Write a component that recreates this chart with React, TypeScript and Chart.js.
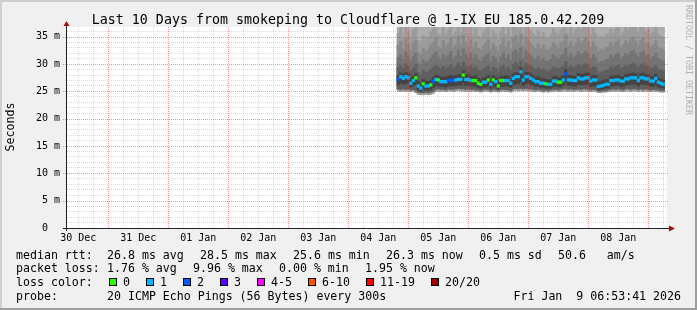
import React, { useEffect, useRef } from "react";
import { Chart, registerables } from "chart.js";
Chart.register(...registerables);

// hours counted from 30 Dec 00:00; first sample Jan 4 20:00, hourly
const startHour = 140;
const X_MIN = 7.48;
const X_MAX = 247.48;

const dayLabels = ["30 Dec", "31 Dec", "01 Jan", "02 Jan", "03 Jan", "04 Jan", "05 Jan", "06 Jan", "07 Jan", "08 Jan"];

const median = [
  27.2, 27.7, 27.4, 27.7, 27.5, 26.5, 27.0, 27.5, 26.0, 25.6,
  26.4, 26.0, 26.0, 26.2, 26.8, 27.2, 27.1, 26.8, 26.8, 26.8,
  27.0, 27.0, 27.0, 27.1, 27.2, 27.2, 28.0, 27.2, 27.2, 27.0,
  27.0, 27.0, 26.5, 26.3, 26.7, 26.7, 27.1, 26.3, 27.1, 26.8,
  26.0, 27.0, 27.0, 27.0, 27.0, 26.5, 27.4, 27.7, 27.7, 28.6,
  27.1, 27.7, 27.7, 27.4, 27.1, 26.8, 26.8, 26.5, 26.5, 26.4,
  26.3, 26.3, 26.9, 26.9, 26.7, 26.7, 27.1, 28.2, 27.1, 27.1,
  27.0, 27.0, 27.5, 27.3, 27.3, 27.5, 27.5, 26.9, 27.1, 27.1,
  25.9, 26.0, 26.1, 26.3, 26.3, 27.0, 27.0, 27.1, 27.1, 26.9,
  26.9, 27.3, 27.3, 27.5, 27.5, 27.5, 27.0, 27.5, 27.5, 27.3,
  27.3, 26.9, 26.9, 27.4, 26.7, 26.5, 26.3,
];

const loss = [
  2, 1, 1, 1, 1, 1, 1, 0, 1, 1,
  0, 1, 1, 0, 2, 1, 0, 1, 1, 1,
  2, 2, 2, 1, 1, 1, 0, 1, 1, 1,
  0, 0, 0, 0, 1, 1, 0, 1, 0, 1,
  0, 0, 0, 1, 1, 1, 1, 1, 1, 1,
  1, 1, 1, 1, 1, 1, 1, 1, 1, 0,
  1, 1, 1, 1, 0, 0, 1, 2, 1, 1,
  1, 1, 1, 1, 1, 1, 1, 1, 1, 1,
  1, 1, 1, 1, 1, 1, 1, 1, 1, 1,
  1, 1, 1, 1, 1, 1, 1, 1, 1, 1,
  1, 1, 1, 1, 1, 1, 1,
];

const pMin = [
  25.1, 25.0, 25.1, 25.0, 25.1, 25.0, 25.1, 24.8, 24.5, 24.4,
  24.4, 24.5, 24.4, 24.5, 24.7, 25.0, 25.1, 25.0, 25.1, 25.0,
  25.1, 25.1, 25.0, 25.1, 25.2, 25.1, 25.1, 25.0, 25.1, 25.0,
  25.1, 25.0, 25.0, 24.9, 25.0, 25.1, 25.0, 24.9, 25.0, 25.0,
  24.9, 25.0, 25.1, 25.0, 25.0, 24.9, 25.1, 25.2, 25.1, 25.2,
  25.1, 25.2, 25.1, 25.1, 25.0, 25.0, 25.1, 25.0, 24.9, 25.0,
  24.9, 25.0, 25.0, 25.1, 25.0, 25.0, 25.1, 25.1, 25.0, 25.1,
  25.0, 25.1, 25.1, 25.0, 25.1, 25.1, 25.0, 25.0, 25.1, 25.0,
  24.8, 24.8, 24.9, 24.9, 25.0, 25.0, 25.1, 25.0, 25.1, 25.0,
  25.0, 25.1, 25.1, 25.0, 25.1, 25.1, 25.0, 25.1, 25.0, 25.1,
  25.0, 25.0, 25.1, 25.0, 25.0, 24.9, 24.9,
];

const pLow = [
  25.5, 25.4, 25.5, 25.4, 25.5, 25.3, 25.4, 25.2, 24.9, 24.8,
  24.8, 24.9, 24.8, 24.9, 25.1, 25.4, 25.5, 25.4, 25.4, 25.3,
  25.5, 25.4, 25.4, 25.5, 25.6, 25.5, 25.5, 25.4, 25.5, 25.4,
  25.4, 25.3, 25.3, 25.2, 25.4, 25.4, 25.4, 25.2, 25.4, 25.3,
  25.2, 25.4, 25.4, 25.4, 25.3, 25.2, 25.5, 25.6, 25.5, 25.6,
  25.5, 25.6, 25.5, 25.5, 25.4, 25.3, 25.4, 25.3, 25.2, 25.3,
  25.2, 25.3, 25.4, 25.4, 25.3, 25.4, 25.5, 25.5, 25.4, 25.5,
  25.4, 25.4, 25.5, 25.4, 25.5, 25.5, 25.4, 25.3, 25.4, 25.4,
  25.1, 25.1, 25.2, 25.2, 25.3, 25.4, 25.5, 25.4, 25.5, 25.4,
  25.3, 25.5, 25.5, 25.4, 25.5, 25.5, 25.4, 25.5, 25.4, 25.5,
  25.4, 25.3, 25.4, 25.4, 25.3, 25.2, 25.2,
];

const darkLo = [
  26.2, 26.5, 26.3, 26.5, 26.4, 25.8, 26.1, 26.2, 25.3, 25.0,
  25.4, 25.2, 25.2, 25.3, 25.7, 26.1, 26.0, 25.9, 25.9, 25.8,
  26.0, 26.0, 26.0, 26.1, 26.2, 26.1, 26.5, 26.1, 26.1, 26.0,
  26.0, 25.9, 25.7, 25.6, 25.8, 25.8, 26.0, 25.6, 26.0, 25.8,
  25.4, 25.9, 25.9, 26.0, 25.9, 25.7, 26.2, 26.4, 26.4, 26.8,
  26.1, 26.4, 26.5, 26.3, 26.1, 25.9, 25.9, 25.7, 25.7, 25.6,
  25.6, 25.6, 25.9, 25.9, 25.8, 25.8, 26.1, 26.7, 26.1, 26.1,
  26.0, 26.0, 26.3, 26.2, 26.2, 26.3, 26.3, 25.9, 26.0, 26.0,
  25.3, 25.4, 25.5, 25.6, 25.6, 26.0, 26.0, 26.1, 26.1, 25.9,
  25.9, 26.2, 26.2, 26.3, 26.3, 26.3, 26.0, 26.3, 26.3, 26.2,
  26.2, 25.9, 25.9, 26.2, 25.8, 25.7, 25.6,
];

const darkHi = [
  28.0, 28.4, 28.2, 28.5, 28.3, 27.4, 27.8, 28.3, 26.9, 26.5,
  27.2, 26.9, 26.8, 27.1, 27.6, 28.0, 27.9, 27.7, 27.6, 27.7,
  27.8, 27.9, 27.8, 27.9, 28.1, 28.0, 28.8, 28.0, 28.1, 27.8,
  27.8, 27.9, 27.4, 27.2, 27.5, 27.6, 27.9, 27.2, 27.9, 27.6,
  26.9, 27.8, 27.8, 27.9, 27.8, 27.3, 28.2, 28.5, 28.4, 29.3,
  27.9, 28.5, 28.5, 28.2, 27.9, 27.6, 27.7, 27.3, 27.4, 27.2,
  27.1, 27.2, 27.7, 27.8, 27.5, 27.6, 27.9, 29.0, 27.9, 27.9,
  27.8, 27.8, 28.3, 28.1, 28.2, 28.3, 28.4, 27.7, 27.9, 27.9,
  26.8, 26.9, 27.0, 27.2, 27.2, 27.8, 27.8, 27.9, 28.0, 27.7,
  27.7, 28.1, 28.2, 28.3, 28.4, 28.3, 27.8, 28.3, 28.4, 28.1,
  28.1, 27.7, 27.8, 28.2, 27.5, 27.3, 27.1,
];

const hi5 = [
  29.4, 29.8, 29.2, 30.1, 29.6, 28.8, 29.3, 29.9, 28.4, 28.0,
  28.9, 28.5, 28.6, 29.0, 29.4, 29.8, 29.5, 29.2, 29.6, 29.1,
  29.5, 29.9, 29.3, 29.6, 30.2, 29.5, 30.4, 29.7, 29.4, 29.8,
  29.2, 29.6, 28.9, 28.8, 29.1, 29.4, 29.7, 28.7, 29.5, 29.3,
  28.6, 29.4, 29.8, 29.2, 29.5, 28.9, 30.0, 30.3, 29.8, 30.6,
  29.4, 30.2, 29.9, 29.7, 29.3, 29.0, 29.4, 28.9, 29.1, 28.8,
  28.7, 29.0, 29.5, 29.3, 29.1, 29.4, 29.6, 30.5, 29.4, 29.7,
  29.3, 29.5, 30.0, 29.6, 29.8, 30.1, 29.9, 29.2, 29.6, 29.4,
  28.4, 28.6, 28.7, 28.9, 29.0, 29.5, 29.3, 29.6, 29.8, 29.2,
  29.4, 29.8, 29.6, 30.0, 30.2, 29.8, 29.4, 29.9, 30.1, 29.6,
  29.7, 29.2, 29.4, 29.8, 29.1, 28.9, 28.8,
];

const hi4 = [
  31.2, 31.8, 30.9, 32.3, 31.5, 30.6, 31.4, 32.0, 30.2, 29.9,
  30.8, 30.3, 30.6, 31.1, 31.7, 32.2, 31.3, 30.9, 31.8, 31.0,
  31.6, 32.4, 31.1, 31.5, 32.6, 31.4, 32.8, 31.9, 31.2, 32.1,
  31.0, 31.7, 30.8, 30.5, 31.2, 31.6, 32.0, 30.6, 31.5, 31.1,
  30.4, 31.3, 32.1, 31.0, 31.8, 30.7, 32.3, 32.7, 31.9, 33.0,
  31.2, 32.5, 32.0, 31.6, 31.1, 30.8, 31.5, 30.7, 31.2, 30.6,
  30.5, 30.9, 31.7, 31.3, 30.9, 31.6, 31.8, 32.9, 31.3, 31.9,
  31.1, 31.6, 32.3, 31.7, 32.0, 32.4, 31.9, 31.0, 31.8, 31.2,
  30.2, 30.6, 30.5, 30.9, 31.0, 31.7, 31.2, 31.8, 32.1, 31.0,
  31.4, 32.0, 31.6, 32.3, 32.5, 31.9, 31.3, 32.1, 32.4, 31.5,
  31.8, 31.0, 31.4, 32.0, 31.0, 30.8, 30.6,
];

const hi3 = [
  33.4, 34.2, 32.8, 34.6, 33.7, 32.5, 33.9, 34.4, 32.1, 31.8,
  32.9, 32.3, 32.7, 33.5, 34.0, 34.8, 33.2, 32.9, 34.3, 33.1,
  33.8, 34.7, 33.0, 33.6, 35.1, 33.5, 35.3, 34.1, 33.3, 34.5,
  33.0, 34.0, 32.9, 32.6, 33.4, 33.9, 34.5, 32.7, 33.8, 33.2,
  32.4, 33.6, 34.6, 33.1, 34.2, 32.8, 34.8, 35.2, 34.0, 35.5,
  33.3, 34.9, 34.3, 33.8, 33.2, 32.9, 33.7, 32.8, 33.5, 32.7,
  32.6, 33.1, 34.0, 33.5, 33.0, 33.9, 34.1, 35.4, 33.4, 34.2,
  33.2, 33.9, 34.7, 33.9, 34.3, 34.9, 34.2, 33.1, 34.1, 33.3,
  32.3, 32.8, 32.6, 33.1, 33.2, 34.0, 33.4, 34.1, 34.5, 33.1,
  33.6, 34.3, 33.8, 34.6, 35.0, 34.2, 33.5, 34.4, 34.8, 33.7,
  34.0, 33.2, 33.6, 34.3, 33.1, 32.9, 32.7,
];

const hi2 = [
  35.6, 36.8, 35.0, 37.2, 36.0, 34.7, 36.3, 37.0, 34.4, 34.1,
  35.3, 34.6, 35.0, 35.9, 36.5, 37.4, 35.5, 35.2, 36.9, 35.4,
  36.2, 37.5, 35.3, 36.0, 37.8, 35.8, 38.0, 36.6, 35.6, 37.0,
  35.3, 36.5, 35.1, 34.8, 35.7, 36.3, 37.1, 34.9, 36.2, 35.5,
  34.6, 36.0, 37.2, 35.4, 36.7, 35.0, 37.4, 37.9, 36.4, 38.3,
  35.6, 37.6, 36.9, 36.2, 35.5, 35.1, 36.1, 35.0, 35.8, 34.9,
  34.8, 35.4, 36.5, 35.9, 35.3, 36.3, 36.6, 38.1, 35.7, 36.7,
  35.5, 36.3, 37.3, 36.3, 36.8, 37.5, 36.7, 35.4, 36.6, 35.6,
  34.5, 35.1, 34.8, 35.4, 35.5, 36.4, 35.7, 36.5, 37.0, 35.4,
  35.9, 36.8, 36.2, 37.2, 37.6, 36.7, 35.8, 36.9, 37.4, 36.0,
  36.4, 35.5, 35.9, 36.8, 35.4, 35.1, 34.9,
];

const pMax = [
  41.2, 44.8, 40.5, 46.3, 42.9, 39.8, 43.6, 45.5, 39.4, 39.0,
  40.7, 39.9, 40.3, 41.8, 43.1, 45.9, 41.4, 40.8, 44.6, 41.0,
  42.7, 46.1, 40.9, 42.2, 47.0, 41.9, 47.8, 43.9, 41.5, 44.4,
  40.8, 43.3, 40.6, 40.1, 41.7, 42.8, 44.9, 40.2, 42.6, 41.3,
  39.9, 42.0, 44.7, 41.1, 43.5, 40.4, 45.2, 46.8, 42.9, 48.1,
  41.6, 46.4, 44.2, 42.7, 41.3, 40.6, 42.4, 40.5, 41.9, 40.2,
  40.0, 41.1, 43.3, 42.1, 41.0, 42.9, 43.6, 47.5, 41.8, 43.7,
  41.2, 42.8, 45.0, 42.6, 43.9, 45.6, 43.4, 41.0, 43.2, 41.4,
  39.7, 40.6, 40.2, 41.1, 41.3, 43.0, 41.7, 43.2, 44.5, 41.2,
  42.0, 43.8, 42.5, 44.6, 45.7, 43.5, 41.8, 44.0, 45.1, 42.1,
  42.9, 41.1, 42.0, 43.9, 41.2, 40.7, 40.3,
];

const lossColors = ["#26ff00", "#00b8ff", "#0059ff", "#5e00ff", "#ff00ff", "#ff5500", "#ff0000", "#a10000"];
const lossLabels = ["0", "1", "2", "3", "4-5", "6-10", "11-19", "20/20"];

const legendLine1: [number, string][] = [
  [16, "median rtt:"], [107, "26.8 ms avg"], [200, "28.5 ms max"], [293, "25.6 ms min"],
  [386, "26.3 ms now"], [479, "0.5 ms sd"], [558, "50.6   am/s"],
];
const legendLine2: [number, string][] = [
  [16, "packet loss:"], [107, "1.76 % avg"], [193, "9.96 % max"], [279, "0.00 % min"], [365, "1.95 % now"],
];
const lossBoxX = [109, 146, 183, 220, 257, 308, 366, 431];

const W = 697;
const H = 310;
const MONO = "'DejaVu Sans Mono', monospace";

function lossColorFor(n: number) {
  if (n <= 3) return lossColors[n];
  if (n <= 5) return lossColors[4];
  if (n <= 10) return lossColors[5];
  if (n <= 19) return lossColors[6];
  return lossColors[7];
}

export default function App() {
  const ref = useRef<HTMLCanvasElement>(null);

  useEffect(() => {
    const canvas = ref.current;
    if (!canvas) return;
    const hours = median.map((_, i) => startHour + i);
    const band = (lo: number[], hi: number[]) => hours.map((h, i) => ({ x: h, y: [lo[i], hi[i]] }));
    const barDs = (label: string, data: any[], color: any, order: number) => ({
      type: "bar" as const,
      label,
      data,
      backgroundColor: color,
      borderWidth: 0,
      barPercentage: 1,
      categoryPercentage: 1,
      grouped: false,
      order,
      clip: 0,
    });

    const xTicks: number[] = [];
    for (let v = 12; v < X_MAX; v += 6) xTicks.push(v);
    const yTicks: number[] = [];
    for (let v = 0; v <= 36; v += 1) yTicks.push(v);
    const xMajor = xTicks.filter((v) => v % 24 === 0);
    const yMajor = yTicks.filter((v) => v % 5 === 0 && v > 0);

    const RED = "rgba(255,40,40,0.5)";
    const GRAY = "rgba(150,150,150,0.33)";
    const CLEAR = "rgba(0,0,0,0)";
    const isMajorX = (c: any) => c && c.tick && Math.round(c.tick.value) % 24 === 0;
    const isMajorY = (c: any) => c && c.tick && Math.round(c.tick.value) % 5 === 0;

    const framePlugin = {
      id: "frame",
      beforeDraw(chart: any) {
        const ctx = chart.ctx as CanvasRenderingContext2D;
        const a = chart.chartArea;
        ctx.save();
        ctx.fillStyle = "#f0f0f0";
        ctx.fillRect(0, 0, W, H);
        ctx.fillStyle = "#cfcfcf";
        ctx.fillRect(0, 0, W, 2);
        ctx.fillRect(0, 0, 2, H);
        ctx.fillStyle = "#9e9e9e";
        ctx.fillRect(0, H - 2, W, 2);
        ctx.fillRect(W - 2, 0, 2, H);
        ctx.fillStyle = "#ffffff";
        ctx.fillRect(a.left, a.top, a.right - a.left, a.bottom - a.top);
        ctx.restore();
      },
      afterDraw(chart: any) {
        const ctx = chart.ctx as CanvasRenderingContext2D;
        const a = chart.chartArea;
        const xs = chart.scales.x;
        const ys = chart.scales.y;
        ctx.save();
        // major grid lines (red, dotted), positioned through the chart scales
        ctx.strokeStyle = RED;
        ctx.lineWidth = 1;
        ctx.setLineDash([1, 1]);
        ctx.beginPath();
        xMajor.forEach((v) => {
          const px = Math.round(xs.getPixelForValue(v)) + 0.5;
          ctx.moveTo(px, a.top);
          ctx.lineTo(px, a.bottom);
        });
        yMajor.forEach((v) => {
          const py = Math.round(ys.getPixelForValue(v)) + 0.5;
          ctx.moveTo(a.left - 4, py);
          ctx.lineTo(a.right + 2, py);
        });
        ctx.stroke();
        ctx.setLineDash([]);

        // axes
        ctx.strokeStyle = "#202020";
        ctx.beginPath();
        ctx.moveTo(a.left - 4, a.bottom + 0.5);
        ctx.lineTo(a.right + 3, a.bottom + 0.5);
        ctx.moveTo(a.left - 0.5, a.bottom + 3);
        ctx.lineTo(a.left - 0.5, a.top - 1);
        ctx.stroke();
        ctx.fillStyle = "#991515";
        ctx.beginPath();
        ctx.moveTo(a.left - 0.5, a.top - 6);
        ctx.lineTo(a.left - 3.5, a.top - 1);
        ctx.lineTo(a.left + 2.5, a.top - 1);
        ctx.closePath();
        ctx.fill();
        ctx.beginPath();
        ctx.moveTo(a.right + 8, a.bottom + 0.5);
        ctx.lineTo(a.right + 2, a.bottom - 2.5);
        ctx.lineTo(a.right + 2, a.bottom + 3.5);
        ctx.closePath();
        ctx.fill();

        ctx.fillStyle = "#000";
        ctx.textBaseline = "alphabetic";
        ctx.textAlign = "center";
        ctx.font = `13.3px ${MONO}`;
        ctx.fillText("Last 10 Days from smokeping to Cloudflare @ 1-IX EU 185.0.42.209", 348, 24);

        ctx.textAlign = "left";
        ctx.font = `11.6px ${MONO}`;
        legendLine1.forEach(([x, t]) => ctx.fillText(t, x, 258.5));
        legendLine2.forEach(([x, t]) => ctx.fillText(t, x, 272.3));
        ctx.fillText("loss color:", 16, 286);
        lossBoxX.forEach((x, i) => {
          ctx.fillStyle = lossColors[i];
          ctx.fillRect(x, 278, 8, 8);
          ctx.strokeStyle = "#000";
          ctx.strokeRect(x + 0.5, 278.5, 7, 7);
          ctx.fillStyle = "#000";
          ctx.fillText(lossLabels[i], x + 14, 286);
        });
        ctx.fillText("probe:", 16, 300);
        ctx.fillText("20 ICMP Echo Pings (56 Bytes) every 300s", 107, 300);
        ctx.textAlign = "right";
        ctx.fillText("Fri Jan  9 06:53:41 2026", 681, 300);

        ctx.save();
        ctx.translate(10.5, 127);
        ctx.rotate(-Math.PI / 2);
        ctx.textAlign = "center";
        ctx.textBaseline = "middle";
        ctx.font = `11.6px ${MONO}`;
        ctx.fillStyle = "#000";
        ctx.fillText("Seconds", 0, 0);
        ctx.restore();

        ctx.save();
        ctx.translate(688, 60);
        ctx.rotate(Math.PI / 2);
        ctx.textAlign = "center";
        ctx.textBaseline = "middle";
        ctx.font = `8.3px ${MONO}`;
        ctx.fillStyle = "#b0b0b0";
        ctx.fillText("RRDTOOL / TOBI OETIKER", 0, 0);
        ctx.restore();

        ctx.restore();
      },
    };

    const medianData = hours.map((h, i) => ({ x: h, y: [median[i] - 0.24, median[i] + 0.24] }));
    const medianColors = loss.map((l) => lossColorFor(l));

    const chart = new Chart(canvas, {
      type: "bar",
      data: {
        datasets: [
          barDs("median", medianData, medianColors, 1),
          barDs("s6", band(darkLo, darkHi), "#444444", 5),
          barDs("s5", band(pLow, hi5), "#5f5f5f", 6),
          barDs("s4", band(pLow, hi4), "#747474", 7),
          barDs("s3", band(pLow, hi3), "#888888", 8),
          barDs("s2", band(pMin, hi2), "#9b9b9b", 9),
          barDs("s1", band(pMin, pMax), "#adadad", 10),
        ] as any,
      },
      options: {
        animation: false,
        responsive: false,
        devicePixelRatio: 1,
        events: [],
        layout: { padding: { top: 27, right: 30, left: 0, bottom: 0 } },
        plugins: {
          legend: { display: false },
          tooltip: { enabled: false },
          title: { display: false },
        },
        scales: {
          x: {
            type: "linear",
            min: X_MIN,
            max: X_MAX,
            offset: false,
            z: 1,
            grid: {
              offset: false,
              drawTicks: false,
              lineWidth: 1,
              color: (c: any) => (isMajorX(c) ? CLEAR : GRAY),
            },
            border: { display: false, dash: [1, 1] },
            ticks: {
              autoSkip: false,
              maxRotation: 0,
              minRotation: 0,
              padding: 4,
              color: "#000",
              font: { family: MONO, size: 10 },
              callback: (v: any) => {
                const n = Number(v);
                if (n % 24 !== 12) return "";
                return dayLabels[(n - 12) / 24] ?? "";
              },
            },
            afterBuildTicks: (s: any) => {
              s.ticks = xTicks.map((v) => ({ value: v }));
            },
            afterFit: (s: any) => {
              s.height = 82;
            },
          },
          y: {
            type: "linear",
            min: 0,
            max: 36.8,
            z: 1,
            grid: {
              drawTicks: false,
              lineWidth: 1,
              color: (c: any) => (isMajorY(c) ? CLEAR : GRAY),
            },
            border: { display: false, dash: [1, 1] },
            ticks: {
              autoSkip: false,
              padding: 7,
              color: "#000",
              font: { family: MONO, size: 10 },
              callback: (v: any) => {
                const n = Number(v);
                if (n % 5 !== 0) return "";
                return n === 0 ? "0  " : `${n} m`;
              },
            },
            afterBuildTicks: (s: any) => {
              s.ticks = yTicks.map((v) => ({ value: v }));
            },
            afterFit: (s: any) => {
              s.width = 67;
            },
          },
        },
      } as any,
      plugins: [framePlugin],
    });
    return () => chart.destroy();
  }, []);

  return (
    <div style={{ position: "fixed", left: 0, top: 0, width: W, height: H }}>
      <canvas ref={ref} width={W} height={H} style={{ display: "block", width: W, height: H }} />
    </div>
  );
}
